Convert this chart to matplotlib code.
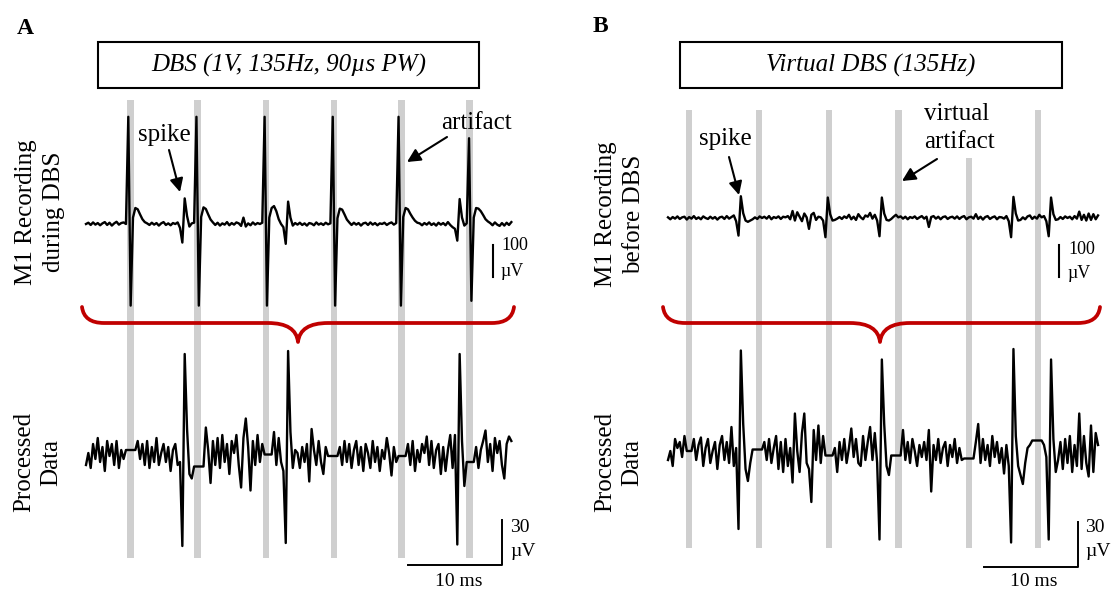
import numpy as np
import matplotlib.pyplot as plt
from matplotlib.patches import Rectangle, PathPatch
from matplotlib.path import Path

plt.rcParams['font.family'] = ['Liberation Serif', 'DejaVu Serif']

W, H = 1112, 592
DT = 0.25  # ms between samples

# DBS pulse times (ms from start of trace)
art_a = [4.72, 11.86, 19.15, 26.38, 33.6, 40.81]
art_b = [2.23, 9.68, 17.13, 24.53, 32.02, 39.36]

# panel A: recording during DBS (uV)
rec_a = [0, 4, -3, 5, -2, 3, -4, 2, 6, -3,
         4, -5, 2, 7, -2, 3, 5, 0,
         335, -255, 20, 50, 46, 30, 15, 6, 2, -3,
         4, -2, 3, -5, 2, 6, -3, 2, -4, 3, 0, 5,
         -12, -58, 80, 25, -8, 2, 4,
         335, -255, 22, 52, 47, 30, 14, 5,
         -3, 4, -5, 2, -2, 6, -4, 3, -2, 5, 2, -6, 20, -8, 2, -4, 5, -2, 3, 0, 4,
         335, -255, 20, 50, 56, 40, 15, 0, -10, -62, 70, 20, -5, 3, -2,
         4, -3, 2, -5, 3, 1, -4, 5, -2, 2, -3, 4, -1, 2,
         335, -255, 18, 48, 45, 30, 14, 5,
         -3, 4, -2, 3, -5, 2, 4, -3, 5, -2, 3, -4, 2, 0, 4, -3, 2, 5, -2, 3,
         335, -255, 22, 50, 46, 32, 20, 10, 4,
         2, -4, 3, -2, 5, -3, 2, -5, 4, -2, 3, -4, 6, -3, -10,
         -15, -52, 78, 20, -5, 2,
         268, -240, 20, 50, 48, 40, 28, 15, 8,
         3, -4, 5, -2, -6, 3, -5, 4, -3, 6]

# panel A: processed data (uV)
proc_a = [-6, 2, -8, 8, -2, 12, -4, 6, -10, 10, 0, 8, -6, 10, -8, 4, -2,
          4, 4, 4, 4, 4,
          10, -2, 8, -6, 10, -8, 6, -4, 12, -6, 2, 8, -4, 6, -10, 4, 8, -6, -4,
          -60, 68, 18, -12, -15,
          -7, -7, -7, -7, -7,
          19, 4, -18, 10, -6, 12, -8, 14, -4, 8, -12, 10, 2, 14, -6, -21, 12, 25, 6, -23, 10, -6, 14, -4, 8,
          1, 1, 1, 1,
          16, -6, 12, -4, -10,
          -58, 70, 16, -8, 4,
          2, -8, 6, -4, 8, -17, 18, 4, -6, 10, -4, -12, 6,
          0, 0, 0, 0, 0,
          6, -6, 10, -4, 8, -8, 4, 10, -6, 6, -10, 8, 2, -8, 10, -4, 6, -10, 4, -2, 12, 2, -13, 6, -4,
          0, 0, 0, 0,
          8, -6, 10, -10, 4, -4, 8, 2, 13, -6, 10, -8, 4, 8, -12, 6, -10, 4, 14, -8, 14,
          -59, 68, 10, -20,
          -4, -4, -4, -4,
          6, -8, 4, 10, 17, -4, 8, -10, 12, 2, 10, -6, -15, 8, 13, 10]

# panel B: recording before DBS (uV)
rec_b = [2, -4, 3, -2, 5, -3, 2, 4, -5, 3, -2, 6, -3, 2, -4, 5, 0, -3, 4, -2, 3, -5, 2, 4, -3, 6, -2, 3, 8, -10,
         -55, 68, 15, -8, -12, -8, -4,
         2, -3, 5, 0, 4, -2, 6, -4, 3, 0, 5, -3, 4, 2, 6, -4, 22, -8, 18, 4, -10, 14, 2, -34, 10, 16, -6, 4, 2, -8,
         -60, 64, 12, -8, -6, -2,
         3, -3, 5, 0, 10, -4, 4, -6, 12, 2, -4, 8, 4, 16, -2, 10, -8,
         -57, 64, 14, -6, -8, -3,
         4, 10, 2, 5, -2, 4, -4, 3, 0, 5, -3, 2, 6, -2, 4, -28, 3, 6, -2, 4,
         -4, 3, 5, -3, 2, 4, -2, 5, -3, 3, 6, -4, 2, 4, -2, 12, -3, 4, -5, 3,
         6, -3, 2, 5, -4, 3, 2, -2, 6, -10,
         -60, 66, 14, -8, -6,
         2, -4, 5, 8, -3, 4, -2, 10, 2, 6, -10,
         -57, 64, 12, -6, -4,
         3, -3, 5, 0, 4, -4, 6, -2, 20, -6, 10, -8, 14, -6, 12, -4, 8]

# panel B: processed data (uV)
proc_b = [-4, 2, -8, 10, 4, 8, -2, 12,
          2, 2, 2,
          10, -4, 6, 11, -8, 4, 10, -6, 2, 8, -10, 6, 12, -4, 8, -6, 18, -8, 4,
          -50, 69, 20, -10, -18, -6,
          3, 3, 3, 3, 3,
          8, -4, 10, -6, 4, 12, -10, 8, -12, 10, -8, 4, -19, 27, 2, -12, 14, 27, -6, -10, -32, 16, -4, 19, -6, 12,
          -1, -1, -1, -1,
          4, -12, 8, -4, 10, -6, 4, 17, -2, 10, -6, -8, 12, -4, 8, 18, -4, 14, -6,
          -57, 63, 20, -8, -14,
          -1, -1, -1, -1, -1,
          16, -4, 8, -6, 10, 2, -8, 6, -2, 8, -4, 16, -25, 6, -4, 10, -6, 4, 8, -8, 6, -2, 10, -6, 4, -4,
          -3, -3, -3, -3, -3,
          8, 20, -6, 10, -4, 6, -8, 12, -2, 8, -6, 4, -13, 6, -8,
          -59, 70, 12, -8, -14, -20, -6, 4, 6,
          9, 9, 9, 9, 9,
          6, -2,
          -57, 63, 10, -12, -4,
          8, -10, 10, -6, 12, -12, 6, -8, 27, -10, 12, -6, -15, 19, -12, 14, 6]

SCALE_MS = 10
SCALE_RAW = 100
SCALE_PROC = 30

GREY = '#cfcfcf'
RED = '#c00000'

fig = plt.figure(figsize=(W / 100, H / 100), dpi=100)


def trace_axes(x0, y0, ppm, ppu):
    # full-figure axes; x0/y0 = pixel of t=0 / 0 uV, ppm = px per ms, ppu = px per uV
    ax = fig.add_axes([0, 0, 1, 1])
    ax.set_xlim(-x0 / ppm, (W - x0) / ppm)
    ax.set_ylim((y0 - H) / ppu, y0 / ppu)
    ax.axis('off')
    ax.patch.set_alpha(0)
    return ax


def brace(ax, x1, x2, xm, ytop=307, ymid=323, ytip=342):
    verts = [(x1, ytop), (x1 + 2, ymid), (x1 + 22, ymid), (xm - 30, ymid),
             (xm - 2, ymid), (xm, ytip), (xm + 2, ymid), (xm + 30, ymid),
             (x2 - 22, ymid), (x2 - 2, ymid), (x2, ytop)]
    codes = [Path.MOVETO, Path.CURVE3, Path.CURVE3, Path.LINETO, Path.CURVE3, Path.CURVE3,
             Path.CURVE3, Path.CURVE3, Path.LINETO, Path.CURVE3, Path.CURVE3]
    ax.add_patch(PathPatch(Path(verts, codes), fill=False, ec=RED, lw=2.7,
                           capstyle='round', joinstyle='round'))


PPM = 9.4
panels = [
    dict(x0=86, y_raw=224, y_proc=456, rec=rec_a, proc=proc_a, arts=art_a,
         bar_top=[100] * 6, bar_bot=558,
         sb_raw=(43.27, -166), sb_proc=(44.26, -72.7)),
    dict(x0=668, y_raw=218, y_proc=454, rec=rec_b, proc=proc_b, arts=art_b,
         bar_top=[110, 110, 110, 110, 158, 110], bar_bot=548,
         sb_raw=(41.6, -184), sb_proc=(43.62, -75.3)),
]

for p in panels:
    ax_r = trace_axes(p['x0'], p['y_raw'], PPM, 0.32)
    for t, top in zip(p['arts'], p['bar_top']):
        ax_r.axvspan(t - 0.36, t + 0.36, ymin=1 - p['bar_bot'] / H, ymax=1 - top / H,
                     color=GREY, lw=0, zorder=0)
    t = np.arange(len(p['rec'])) * DT
    ax_r.plot(t, p['rec'], color='k', lw=1.7, zorder=2)
    sx, sy = p['sb_raw']
    ax_r.plot([sx, sx], [sy, sy + SCALE_RAW], color='k', lw=1.5)

    ax_p = trace_axes(p['x0'], p['y_proc'], PPM, 1.5)
    t = np.arange(len(p['proc'])) * DT
    ax_p.plot(t, p['proc'], color='k', lw=1.7, zorder=2)
    sx, sy = p['sb_proc']
    ax_p.plot([sx - SCALE_MS, sx, sx], [sy, sy, sy + SCALE_PROC], color='k', lw=1.4)

# overlay in pixel coordinates for labels and decorations
ov = fig.add_axes([0, 0, 1, 1])
ov.set_xlim(0, W)
ov.set_ylim(H, 0)
ov.axis('off')
ov.patch.set_alpha(0)

ov.text(25, 28, 'A', fontsize=17, fontweight='bold', ha='center', va='center')
ov.text(600, 27, 'B', fontsize=17, fontweight='bold', ha='center', va='center')

ov.add_patch(Rectangle((98, 42), 381, 46, fill=False, ec='k', lw=1.5))
ov.add_patch(Rectangle((680, 42), 382, 46, fill=False, ec='k', lw=1.5))
ov.text(288.5, 65, 'DBS (1V, 135Hz, 90µs PW)', fontsize=18, style='italic',
        ha='center', va='center')
ov.text(871, 65, 'Virtual DBS (135Hz)', fontsize=18, style='italic',
        ha='center', va='center')

lab = dict(rotation=90, ha='center', va='center', fontsize=18,
           multialignment='center', linespacing=1.3)
ov.text(40, 212, 'M1 Recording\nduring DBS', **lab)
ov.text(38, 462, 'Processed\nData', **lab)
ov.text(620, 214, 'M1 Recording\nbefore DBS', **lab)
ov.text(619, 462, 'Processed\nData', **lab)

brace(ov, 82, 514, 298)
brace(ov, 663, 1100, 880)

arrow = dict(arrowstyle='-|>', color='k', lw=1.5, mutation_scale=20,
             shrinkA=0, shrinkB=0)
ov.text(164, 135, 'spike', fontsize=18, ha='center', va='center')
ov.annotate('', xy=(180, 192), xytext=(169, 150), arrowprops=arrow)
ov.text(476, 123, 'artifact', fontsize=18, ha='center', va='center')
ov.annotate('', xy=(407, 162), xytext=(447, 137), arrowprops=arrow)
ov.text(725, 139, 'spike', fontsize=18, ha='center', va='center')
ov.annotate('', xy=(739, 195), xytext=(729, 157), arrowprops=arrow)
ov.text(924, 128, 'virtual\nartifact', fontsize=18, ha='left', va='center',
        linespacing=1.4)
ov.annotate('', xy=(902, 181), xytext=(937, 159), arrowprops=arrow)

small = dict(fontsize=13, ha='left', va='center')
ov.text(501, 246, '100', **small)
ov.text(500, 272, 'µV', **small)
ov.text(1068, 249, '100', **small)
ov.text(1067, 273, 'µV', **small)
mid = dict(fontsize=14, ha='left', va='center')
ov.text(510, 528, '30', **mid)
ov.text(510, 552, 'µV', **mid)
ov.text(1085, 528, '30', **mid)
ov.text(1085, 552, 'µV', **mid)
ov.text(459, 582, '10 ms', fontsize=14, ha='center', va='center')
ov.text(1034, 582, '10 ms', fontsize=14, ha='center', va='center')

fig.savefig('out.png', dpi=100, facecolor='white')
